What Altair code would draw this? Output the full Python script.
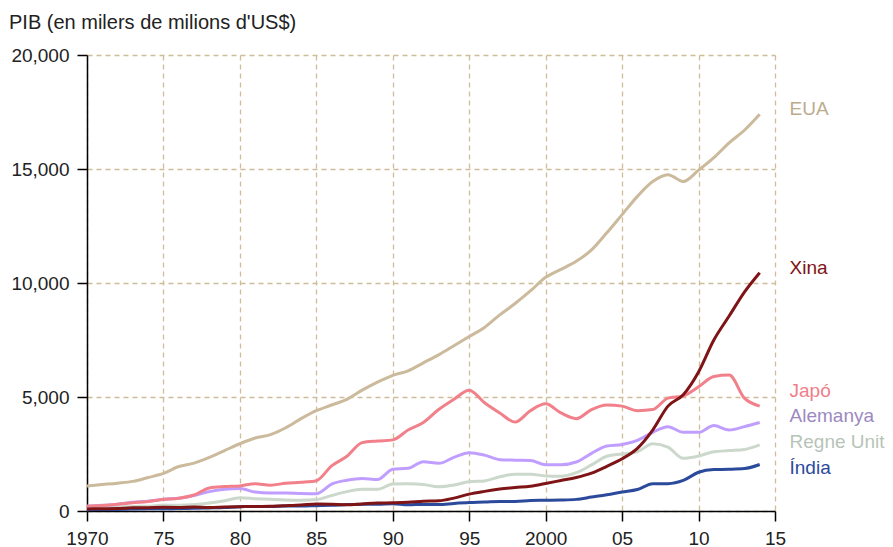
import altair as alt
import pandas as pd

years = list(range(1970, 2015))

eua = [1100, 1160, 1220, 1300, 1470, 1650, 1950, 2100, 2350, 2650,
       2950, 3200, 3350, 3650, 4050, 4400, 4650, 4900, 5300, 5650,
       5950, 6150, 6500, 6850, 7250, 7650, 8050, 8600, 9100, 9650,
       10250, 10600, 10950, 11450, 12200, 13000, 13800, 14450, 14750, 14450,
       14950, 15500, 16150, 16700, 17400]
xina = [90, 100, 110, 140, 145, 160, 155, 170, 150, 175,
        190, 195, 205, 230, 260, 310, 300, 270, 310, 350,
        360, 380, 425, 445, 565, 740, 860, 960, 1030, 1090,
        1210, 1340, 1470, 1660, 1960, 2290, 2750, 3550, 4600, 5100,
        6100, 7500, 8550, 9600, 10450]
japo = [210, 240, 300, 360, 420, 500, 560, 700, 1010, 1070,
        1100, 1200, 1130, 1220, 1260, 1330, 1980, 2400, 3000, 3070,
        3120, 3550, 3880, 4450, 4900, 5300, 4750, 4300, 3900, 4400,
        4700, 4300, 4050, 4450, 4650, 4600, 4400, 4450, 4950, 5050,
        5450, 5900, 5960, 4950, 4600]
alemanya = [210, 250, 300, 380, 430, 520, 560, 680, 850, 950,
            990, 830, 790, 790, 770, 760, 1180, 1350, 1430, 1380,
            1830, 1870, 2160, 2090, 2350, 2560, 2450, 2250, 2230, 2220,
            2030, 2030, 2150, 2530, 2850, 2920, 3100, 3450, 3700, 3450,
            3450, 3750, 3550, 3700, 3880]
regne_unit = [130, 150, 170, 200, 210, 260, 250, 280, 350, 450,
              580, 540, 510, 480, 470, 500, 680, 850, 950, 950,
              1180, 1190, 1160, 1060, 1140, 1280, 1320, 1500, 1610, 1610,
              1540, 1520, 1680, 2020, 2400, 2500, 2600, 2950, 2800, 2310,
              2410, 2600, 2650, 2700, 2900]
india = [60, 65, 70, 85, 100, 100, 105, 120, 135, 150,
         190, 195, 200, 220, 220, 235, 250, 280, 300, 300,
         320, 270, 290, 280, 330, 370, 390, 420, 420, 460,
         470, 480, 510, 610, 710, 830, 940, 1200, 1200, 1340,
         1700, 1820, 1830, 1860, 2040]

series_names = ["EUA", "Regne Unit", "Alemanya", "Japó", "Índia", "Xina"]
series_values = [eua, regne_unit, alemanya, japo, india, xina]
line_colors = ["#CBBA9B", "#CBD8CB", "#C09EFF", "#F2808A", "#2B4A9C", "#7E1416"]
label_colors = ["#BBAB8D", "#B8C3B8", "#9C89C2", "#F07E88", "#2B4A9C", "#7E1416"]

label_names = ["EUA", "Xina", "Japó", "Alemanya", "Regne Unit", "Índia"]
label_anchor = [17650, 10650, 5270, 4160, 3030, 1880]
label_year = [2015.95] * 6

x_ticks = [1970, 1975, 1980, 1985, 1990, 1995, 2000, 2005, 2010, 2015]
y_ticks = [0, 5000, 10000, 15000, 20000]

rows = []
for name, vals in zip(series_names, series_values):
    for yr, v in zip(years, vals):
        rows.append({"any": yr, "pib": v, "pais": name})
df = pd.DataFrame(rows)

lab = pd.DataFrame({"pais": label_names, "pib": label_anchor, "any": label_year})

FONT = "Liberation Sans"
grid_col = "#CFBC99"

x_enc = alt.X(
    "any:Q",
    scale=alt.Scale(domain=[1970, 2015], nice=False, zero=False),
    axis=alt.Axis(
        values=x_ticks,
        title=None,
        labelExpr="(datum.value == 1970 || datum.value == 2000) ? toString(datum.value) : substring(toString(datum.value), 2, 4)",
        tickSize=10, labelPadding=8, labelFlush=False,
    ),
)
y_enc = alt.Y(
    "pib:Q",
    scale=alt.Scale(domain=[0, 20000], nice=False),
    axis=alt.Axis(values=y_ticks, title=None, format=",d", tickSize=10, labelPadding=8, labelFlush=False),
)

lines = alt.Chart(df).mark_line(strokeWidth=3, interpolate="monotone").encode(
    x=x_enc,
    y=y_enc,
    color=alt.Color("pais:N", scale=alt.Scale(domain=series_names, range=line_colors), legend=None),
    order=alt.Order("any:Q"),
    detail="pais:N",
)

labels = alt.Chart(lab).mark_text(
    align="left", baseline="middle", font=FONT, fontSize=19
).encode(
    x="any:Q",
    y="pib:Q",
    text="pais:N",
    color=alt.Color("pais:N", scale=alt.Scale(domain=series_names, range=label_colors), legend=None),
)

chart = alt.layer(lines, labels).resolve_scale(color="independent").properties(
    width=688,
    height=456,
    autosize=alt.AutoSizeParams(type="none"),
    padding={"left": 79, "top": 47, "right": 110, "bottom": 36},
    title=alt.TitleParams(
        "PIB (en milers de milions d'US$)",
        anchor="start", frame="group", dx=-78, offset=13,
        font=FONT, fontSize=20, fontWeight="normal", color="#222222",
    ),
).configure_view(stroke=None).configure_axis(
    grid=True, gridColor=grid_col, gridDash=[5, 4], gridWidth=1.3, gridOpacity=1,
    domainColor="black", domainWidth=1.5,
    tickColor="black", tickWidth=1.5,
    labelFont=FONT, labelFontSize=19, labelColor="#222222",
)

chart.save("out.html", embed_options={"renderer": "svg", "actions": False})
